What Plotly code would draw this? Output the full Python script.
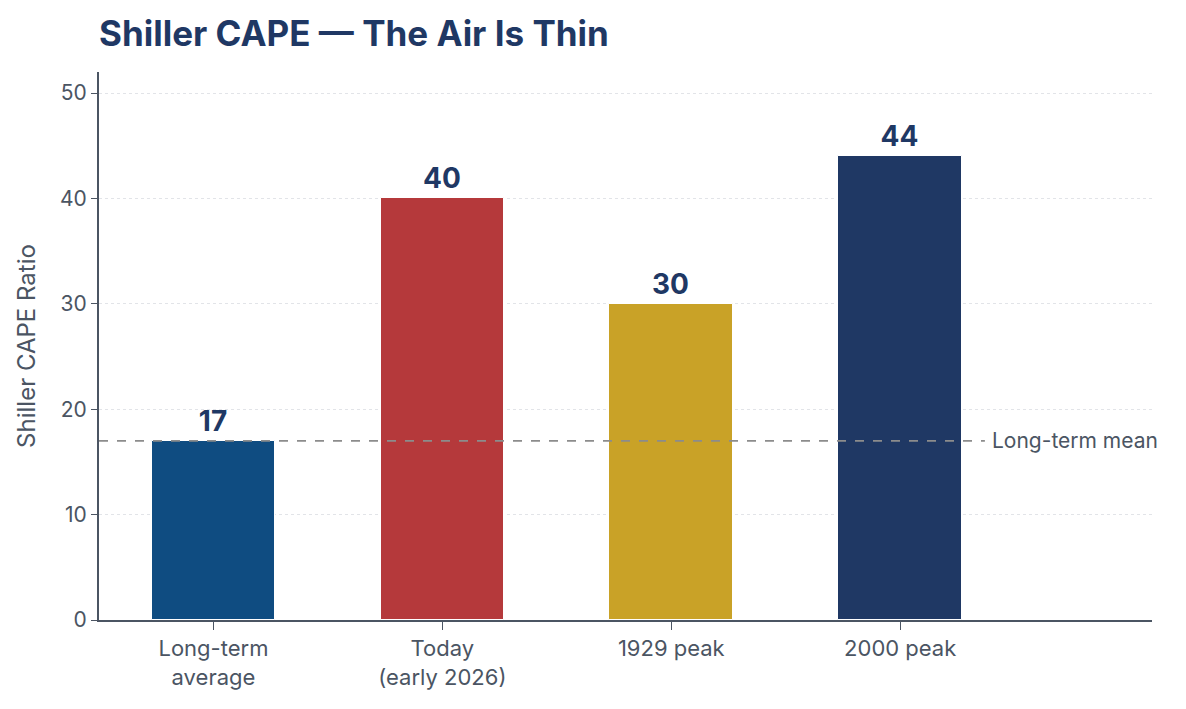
import plotly.graph_objects as go

categories = ["Long-term<br>average", "Today<br>(early 2026)", "1929 peak", "2000 peak"]
values = [17, 40, 30, 44]
colors = ["#0f4c81", "#b5393b", "#c9a227", "#1f3864"]
mean_value = 17
mean_label = "Long-term mean"
y_ticks = [0, 10, 20, 30, 40, 50]

positions = list(range(len(categories)))
FONT = "Inter, 'DM Sans', 'Open Sans', sans-serif"
NAVY = "#1f3864"
GRAY = "#4b5563"

fig = go.Figure()
fig.add_trace(go.Bar(
    x=positions, y=values, width=0.54,
    marker=dict(color=colors, line=dict(color="white", width=1)),
    text=[str(v) for v in values], textposition="outside",
    textfont=dict(size=28, color=NAVY, family=FONT, weight="bold"),
    cliponaxis=False, showlegend=False, hoverinfo="skip",
))

line_end = 3.37
fig.add_shape(type="line", xref="x", yref="y", x0=-0.5, x1=line_end,
              y0=mean_value, y1=mean_value, layer="above",
              line=dict(color="#8c8c8c", width=1.6, dash="dash"))
fig.add_annotation(x=line_end, y=mean_value, xref="x", yref="y", text=mean_label,
                   showarrow=False, xanchor="left", yanchor="middle", xshift=5,
                   font=dict(size=21, color=GRAY, family=FONT))

fig.update_layout(
    width=1186, height=709,
    margin=dict(l=99, r=34, t=72, b=89),
    plot_bgcolor="white", paper_bgcolor="white",
    font=dict(family=FONT, color=GRAY),
    title=dict(text="Shiller CAPE — The Air Is Thin", x=0, xref="paper",
               xanchor="left", y=0.953, yanchor="middle",
               font=dict(size=35, color=NAVY, family=FONT, weight="bold")),
    bargap=0,
)
fig.update_xaxes(range=[-0.5, 4.1], tickvals=positions, ticktext=categories,
                 showgrid=False, showline=True, linecolor=GRAY, linewidth=2,
                 ticks="outside", ticklen=8, tickcolor=GRAY, zeroline=False,
                 tickfont=dict(size=22, color=GRAY, family=FONT))
fig.update_yaxes(range=[0, 52], tickvals=y_ticks, showgrid=True,
                 gridcolor="#e2e4e8", griddash="dot", gridwidth=1.2,
                 layer="above traces",
                 showline=True, linecolor=GRAY, linewidth=2, zeroline=False,
                 ticks="outside", ticklen=6, tickcolor=GRAY,
                 tickfont=dict(size=21, color=GRAY, family=FONT),
                 title=dict(text="Shiller CAPE Ratio", standoff=18,
                            font=dict(size=24, color=GRAY, family=FONT)))

fig.write_html("out.html")
